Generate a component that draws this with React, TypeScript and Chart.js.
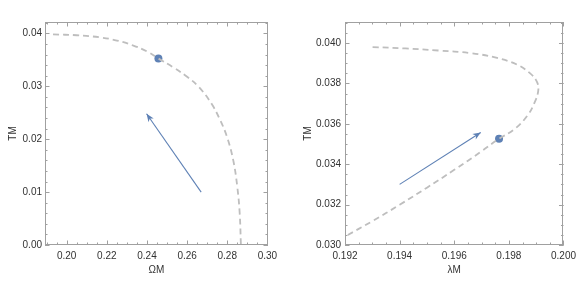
import React, { useEffect, useRef } from 'react';
import { Chart, registerables } from 'chart.js';
Chart.register(...registerables);

// ---------- Left panel (ΩM vs TM) ----------
const leftCurveX = [0.1932, 0.2050, 0.2165, 0.2250, 0.2332, 0.2400, 0.2457, 0.2530, 0.2600, 0.2660, 0.2720, 0.2765, 0.2800, 0.2830, 0.2850, 0.2862, 0.2868];
const leftCurveY = [0.03980, 0.03965, 0.03925, 0.03865, 0.03770, 0.03660, 0.03525, 0.03360, 0.03180, 0.02980, 0.02680, 0.02360, 0.02030, 0.01600, 0.01100, 0.00600, 0.00000];
const leftPointX = [0.2457];
const leftPointY = [0.03525];
const leftArrowX = [0.2670, 0.2398];
const leftArrowY = [0.0100, 0.0248];
const leftXTicks = [0.20, 0.22, 0.24, 0.26, 0.28, 0.30];
const leftYTicks = [0.00, 0.01, 0.02, 0.03, 0.04];

// ---------- Right panel (λM vs TM) ----------
const rightCurveX = [0.19301, 0.19421, 0.19541, 0.19661, 0.19757, 0.19830, 0.19877, 0.19902, 0.19908, 0.19896, 0.19866, 0.19818, 0.19764, 0.19700, 0.19600, 0.19500, 0.19400, 0.19300, 0.19200];
const rightCurveY = [0.03980, 0.03973, 0.03963, 0.03950, 0.03926, 0.03893, 0.03851, 0.03810, 0.03769, 0.03711, 0.03637, 0.03571, 0.03526, 0.03464, 0.03372, 0.03284, 0.03199, 0.03118, 0.03042];
const rightPointX = [0.19764];
const rightPointY = [0.03526];
const rightArrowX = [0.1940, 0.19697];
const rightArrowY = [0.0330, 0.03557];
const rightXTicks = [0.192, 0.194, 0.196, 0.198, 0.200];
const rightYTicks = [0.030, 0.032, 0.034, 0.036, 0.038, 0.040];

const BLUE = 'rgb(94,129,181)';
const CURVE = 'rgb(190,190,190)';
const FRAME = 'rgb(160,160,160)';
const TEXT = 'rgb(50,50,50)';
const FONT = 'Liberation Sans, Arial, sans-serif';

const zip = (xs: number[], ys: number[]) => xs.map((x, i) => ({ x, y: ys[i] }));

const framePlugin = {
  id: 'frame',
  afterDatasetsDraw(chart: any, _args: any, opts: any) {
    const { ctx, chartArea: a, scales } = chart;
    const xs = scales.x, ys = scales.y;
    ctx.save();
    ctx.strokeStyle = FRAME;
    ctx.lineWidth = 1;
    const seg = (x1: number, y1: number, x2: number, y2: number) => {
      ctx.beginPath(); ctx.moveTo(x1, y1); ctx.lineTo(x2, y2); ctx.stroke();
    };
    const each = (min: number, max: number, step: number, f: (v: number) => void) => {
      const k0 = Math.ceil(min / step - 1e-6), k1 = Math.floor(max / step + 1e-6);
      for (let k = k0; k <= k1; k++) f(k * step);
    };
    const xTick = (v: number, len: number) => {
      const px = Math.round(xs.getPixelForValue(v)) + 0.5;
      seg(px, a.bottom, px, a.bottom - len);
      seg(px, a.top, px, a.top + len);
    };
    const yTick = (v: number, len: number) => {
      const py = Math.round(ys.getPixelForValue(v)) + 0.5;
      seg(a.left, py, a.left + len, py);
      seg(a.right, py, a.right - len, py);
    };
    each(xs.min, xs.max, opts.xMinor, (v) => xTick(v, 2.5));
    each(ys.min, ys.max, opts.yMinor, (v) => yTick(v, 2.5));
    opts.xMajor.forEach((v: number) => xTick(v, 4.5));
    opts.yMajor.forEach((v: number) => yTick(v, 4.5));
    ctx.strokeRect(Math.round(a.left) + 0.5, Math.round(a.top) + 0.5, Math.round(a.right - a.left) - 1, Math.round(a.bottom - a.top) - 1);

    // arrowheads
    chart.data.datasets.forEach((ds: any, i: number) => {
      if (!ds.arrow) return;
      const pts = chart.getDatasetMeta(i).data;
      const p1 = pts[pts.length - 2], p2 = pts[pts.length - 1];
      const ang = Math.atan2(p2.y - p1.y, p2.x - p1.x);
      const L = 8, W = 3.2;
      ctx.fillStyle = BLUE;
      ctx.beginPath();
      ctx.moveTo(p2.x, p2.y);
      ctx.lineTo(p2.x - L * Math.cos(ang) + W * Math.sin(ang), p2.y - L * Math.sin(ang) - W * Math.cos(ang));
      ctx.lineTo(p2.x - 0.7 * L * Math.cos(ang), p2.y - 0.7 * L * Math.sin(ang));
      ctx.lineTo(p2.x - L * Math.cos(ang) - W * Math.sin(ang), p2.y - L * Math.sin(ang) + W * Math.cos(ang));
      ctx.closePath();
      ctx.fill();
    });
    ctx.restore();
  },
};

interface Panel {
  curveX: number[]; curveY: number[];
  pointX: number[]; pointY: number[];
  arrowX: number[]; arrowY: number[];
  xTicks: number[]; yTicks: number[];
  xMin: number; xMax: number; yMin: number; yMax: number;
  xMinor: number; yMinor: number;
  xDec: number; yDec: number;
  xTitle: string; yTitle: string;
  yAxisWidth: number; padRight: number;
  yLabelPad: number; yTitlePad: number;
}

function makeConfig(p: Panel): any {
  return {
    type: 'scatter',
    data: {
      datasets: [
        {
          data: zip(p.curveX, p.curveY), showLine: true, borderColor: CURVE, borderWidth: 1.8,
          borderDash: [6, 4], pointRadius: 0, tension: 0.4, fill: false,
        },
        {
          data: zip(p.arrowX, p.arrowY), showLine: true, borderColor: BLUE, borderWidth: 1.1,
          pointRadius: 0, fill: false, arrow: true,
        },
        {
          data: zip(p.pointX, p.pointY), pointRadius: 4, backgroundColor: BLUE, borderWidth: 0,
        },
      ],
    },
    options: {
      animation: false,
      responsive: false,
      layout: { padding: { top: 22, right: p.padRight, bottom: 0, left: 0 } },
      plugins: {
        legend: { display: false },
        tooltip: { enabled: false },
        frame: { xMajor: p.xTicks, yMajor: p.yTicks, xMinor: p.xMinor, yMinor: p.yMinor },
      },
      scales: {
        x: {
          type: 'linear', min: p.xMin, max: p.xMax,
          afterBuildTicks: (s: any) => { s.ticks = p.xTicks.map((v) => ({ value: v })); },
          afterFit: (s: any) => { s.height = 59; },
          grid: { display: false, drawTicks: false },
          border: { display: false },
          ticks: {
            callback: (v: any) => Number(v).toFixed(p.xDec), font: { family: FONT, size: 10 },
            color: TEXT, padding: 5, maxRotation: 0, autoSkip: false,
          },
          title: { display: true, text: p.xTitle, font: { family: FONT, size: 10 }, color: TEXT, padding: { top: 0, bottom: 28 } },
        },
        y: {
          type: 'linear', min: p.yMin, max: p.yMax,
          afterBuildTicks: (s: any) => { s.ticks = p.yTicks.map((v) => ({ value: v })); },
          afterFit: (s: any) => { s.width = p.yAxisWidth; },
          grid: { display: false, drawTicks: false },
          border: { display: false },
          ticks: {
            callback: (v: any) => Number(v).toFixed(p.yDec), font: { family: FONT, size: 10 },
            color: TEXT, padding: p.yLabelPad, autoSkip: false,
          },
          title: { display: true, text: p.yTitle, font: { family: FONT, size: 10 }, color: TEXT, padding: { top: p.yTitlePad, bottom: 0 } },
        },
      },
    },
    plugins: [framePlugin],
  };
}

const leftPanel: Panel = {
  curveX: leftCurveX, curveY: leftCurveY, pointX: leftPointX, pointY: leftPointY,
  arrowX: leftArrowX, arrowY: leftArrowY, xTicks: leftXTicks, yTicks: leftYTicks,
  xMin: 0.1892, xMax: 0.3003, yMin: 0, yMax: 0.04215, xMinor: 0.005, yMinor: 0.002,
  xDec: 2, yDec: 2, xTitle: 'ΩM', yTitle: 'TM', yAxisWidth: 45, padRight: 22, yLabelPad: 3, yTitlePad: 7,
};

const rightPanel: Panel = {
  curveX: rightCurveX, curveY: rightCurveY, pointX: rightPointX, pointY: rightPointY,
  arrowX: rightArrowX, arrowY: rightArrowY, xTicks: rightXTicks, yTicks: rightYTicks,
  xMin: 0.192, xMax: 0.200, yMin: 0.030, yMax: 0.04104, xMinor: 0.0005, yMinor: 0.0005,
  xDec: 3, yDec: 3, xTitle: 'λM', yTitle: 'TM', yAxisWidth: 55, padRight: 14, yLabelPad: 4, yTitlePad: 12,
};

function PanelChart({ panel, left, width }: { panel: Panel; left: number; width: number }) {
  const ref = useRef<HTMLCanvasElement>(null);
  useEffect(() => {
    if (!ref.current) return;
    const chart = new Chart(ref.current, makeConfig(panel));
    return () => chart.destroy();
  }, [panel]);
  return (
    <canvas
      ref={ref}
      width={width}
      height={304}
      style={{ position: 'absolute', left, top: 0, width, height: 304 }}
    />
  );
}

export default function App() {
  return (
    <div style={{ position: 'fixed', left: 0, top: 0, width: 581, height: 304, background: '#fff' }}>
      <PanelChart panel={leftPanel} left={0} width={290} />
      <PanelChart panel={rightPanel} left={290} width={291} />
    </div>
  );
}
